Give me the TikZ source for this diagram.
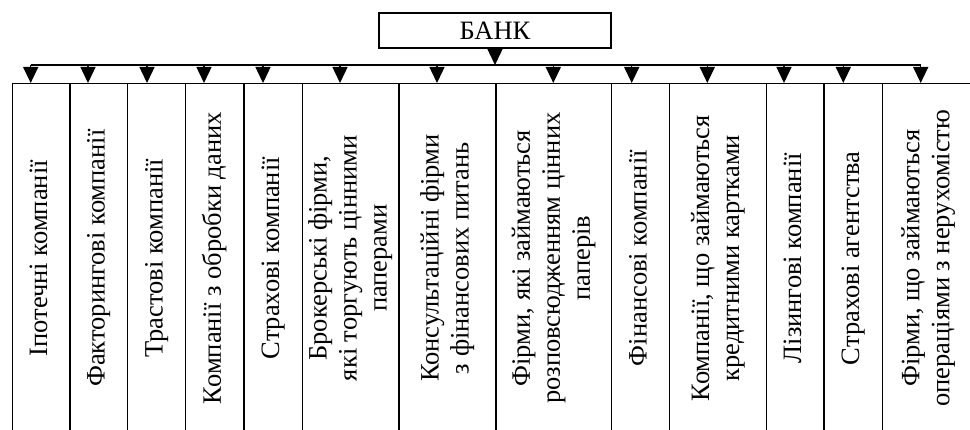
\documentclass[tikz,border=0pt]{standalone}
\usepackage{fontspec}
\setmainfont{Liberation Serif}
\usetikzlibrary{arrows.meta}
\begin{document}
\begin{tikzpicture}[x=1pt,y=1pt,
  col/.style={draw, line width=1.4pt, rectangle, inner sep=0pt, anchor=north west, minimum height=349pt,
    font=\fontsize{26.5}{30}\selectfont},
  bankbox/.style={draw, line width=1.4pt, rectangle, inner sep=0pt, minimum width=232pt, minimum height=35pt,
    font=\fontsize{26.5}{30}\selectfont},
  line/.style={line width=1.4pt},
  arr/.style={line width=1.4pt, -{Triangle[length=16pt,width=15pt]}}]
\useasboundingbox (0,0) rectangle (970,-430);
\clip (0,0) rectangle (970,-430);
\newcommand{\coltext}[1]{\rotatebox{90}{\begin{tabular}{@{}c@{}}#1\end{tabular}}}

\node[bankbox] (bank) at (495,-30.5) {БАНК};

\node[col, minimum width=57.6pt] (c1) at (11.7,-83) {\coltext{Іпотечні компанії}};
\node[col, minimum width=57.4pt] (c2) at (69.3,-83) {\coltext{Факторингові компанії}};
\node[col, minimum width=58.3pt] (c3) at (126.7,-83) {\coltext{Трастові компанії}};
\node[col, minimum width=58.3pt] (c4) at (185,-83) {\coltext{Компанії з обробки даних}};
\node[col, minimum width=58.4pt] (c5) at (243.3,-83) {\coltext{Страхові компанії}};
\node[col, minimum width=96.6pt] (c6) at (301.7,-83) {\coltext{Брокерські фірми,\\ які торгують цінними\\ паперами}};
\node[col, minimum width=97pt] (c7) at (398.3,-83) {\coltext{Консультаційні фірми\\ з фінансових питань}};
\node[col, minimum width=115.7pt] (c8) at (495.3,-83) {\coltext{Фірми, які займаються\\ розповсюдженням цінних\\ паперів}};
\node[col, minimum width=58pt] (c9) at (611,-83) {\coltext{Фінансові компанії}};
\node[col, minimum width=96.7pt] (c10) at (669,-83) {\coltext{Компанії, що займаються\\ кредитними картками}};
\node[col, minimum width=57.6pt] (c11) at (765.7,-83) {\coltext{Лізингові компанії}};
\node[col, minimum width=58.4pt] (c12) at (823.3,-83) {\coltext{Страхові агентства}};
\node[col, minimum width=92pt] (c13) at (881.7,-83) {\coltext{Фірми, що займаються\\ операціями з нерухомістю}};

\coordinate (t1) at (30.7,-65);
\coordinate (t2) at (88,-65);
\coordinate (t3) at (147,-65);
\coordinate (t4) at (204,-65);
\coordinate (t5) at (263,-65);
\coordinate (t6) at (340,-65);
\coordinate (t7) at (437,-65);
\coordinate (t8) at (553.3,-65);
\coordinate (t9) at (631.7,-65);
\coordinate (t10) at (707.3,-65);
\coordinate (t11) at (784,-65);
\coordinate (t12) at (843.3,-65);
\coordinate (t13) at (920.7,-65);

\draw[line] (t1) -- (t13);
\draw[arr] (bank.south) -- (bank.south |- t1);
\foreach \i in {1,...,13} {
  \draw[arr] (t\i) -- (t\i |- c\i.north);
}
\end{tikzpicture}
\end{document}
